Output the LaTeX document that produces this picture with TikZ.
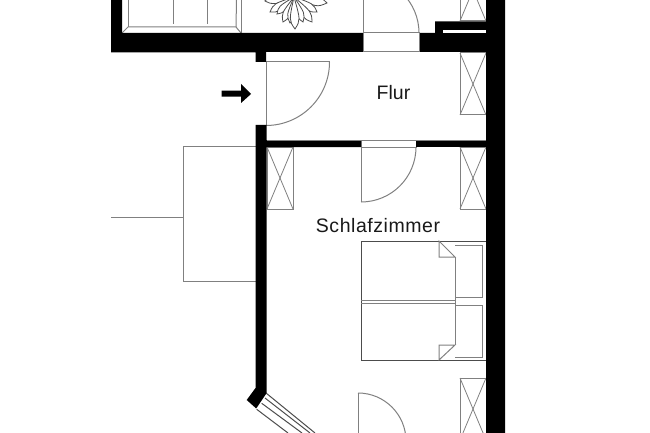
\documentclass[tikz,border=0pt]{standalone}
\usepackage{fontspec}
\setmainfont{Liberation Sans}
\usetikzlibrary{calc}
\tikzset{
  wall/.style={fill=black,draw=none},
  thin line/.style={draw=black!50,line width=1pt,fill=none},
  dark line/.style={draw=black!70,line width=1pt,fill=none},
  label text/.style={font=\fontsize{19.5}{22}\selectfont,text=black!90,inner sep=0pt}
}
\begin{document}
\begin{tikzpicture}[x=1pt,y=-1pt]
\useasboundingbox (0,0) rectangle (650,433);
\clip (0,0) rectangle (650,433);
% plant
\coordinate (pc) at (294,-3);
\foreach \tx/\ty in {255/-6,327/3,265/1,317/12,270/12,312/22,277/14,303/22,283/22,290/23,295/29}{
  \draw[dark line,line width=0.8pt,fill=white] (pc) .. controls ($(pc)!.75!14:(\tx,\ty)$) .. (\tx,\ty) .. controls ($(pc)!.75!-14:(\tx,\ty)$) .. (pc);
}
% tub
\draw[thin line] (122,33) -- (128,27) -- (236,27) -- (241,33);
\draw[thin line] (128,0) -- (128,27);
\draw[thin line] (236.5,0) -- (236,27);
\draw[thin line] (241,0) -- (241,33);
\draw[thin line] (173,0) -- (173,24);
\draw[thin line] (207,0) -- (207,24);
% balcony
\draw[thin line] (256,146) -- (183,146) -- (183,281) -- (256,281);
\draw[thin line] (111,217) -- (183,217);
% cupboards
\foreach \x/\ya/\yb in {460/-41/21,460/53/115,267/147/209,460/147/209,460/378/440}{
  \draw[thin line] (\x,\ya) rectangle (\x+26,\yb);
  \draw[thin line,line width=0.8pt] (\x,\ya) -- (\x+26,\yb);
  \draw[thin line,line width=0.8pt] (\x+26,\ya) -- (\x,\yb);
}
% doors
\draw[thin line] (363,0) -- (363,33);
\draw[thin line] (419,33) .. controls (419,2.1) and (393.9,-23) .. (363,-23);
\draw[thin line] (266,125.5) -- (266,62) -- (329.5,62);
\draw[thin line] (329.5,62) .. controls (329.5,97.1) and (301.1,125.5) .. (266,125.5);
\draw[thin line] (361,140) rectangle (416,147);
\draw[thin line] (361,147) -- (361,202);
\draw[thin line] (416,147) .. controls (416,177.4) and (391.4,202) .. (361,202);
\draw[thin line] (358,393) -- (358,433);
\draw[thin line] (358,393) .. controls (384.5,393) and (406,414.5) .. (406,441);
% beds
\draw[dark line] (486,241) -- (361,241) -- (361,360) -- (486,360);
\draw[thin line] (361,300) -- (455,300) (361,303) -- (455,303);
\draw[thin line] (455,257) -- (455,345);
\draw[thin line] (455,245) -- (482.5,245) -- (482.5,297) -- (455,297);
\draw[thin line] (455,305) -- (482.5,305) -- (482.5,357) -- (455,357);
\draw[thin line] (439,241) -- (439,257) -- (455,257) -- cycle;
\draw[thin line] (439,360) -- (439,345) -- (455,345) -- cycle;
% window
\draw[dark line] (266,393) -- (315,433);
\draw[dark line] (265,398) -- (310,433);
\draw[dark line] (261.7,403.3) -- (302,433);
\draw[dark line] (256.7,409.3) -- (288,433);
\draw[dark line] (266,393) -- (256,408);
% walls
\fill[wall] (111,0) -- (122,0) -- (122,33) -- (435,33) -- (435,21.5) -- (486,21.5) -- (486,0) -- (505,0) -- (505,433) -- (486,433) -- (486,52) -- (419,52) -- (419,33) -- (363,33) -- (363,52) -- (266,52) -- (266,62) -- (255.7,62) -- (255.7,52.5) -- (111,52.5) -- cycle;
\fill[white] (442.5,30) rectangle (486,33.5);
\draw[thin line] (363,33) rectangle (419,52);
\fill[wall] (255.7,125) -- (266.5,125) -- (266.5,140) -- (361,140) -- (361,147) -- (266.5,147) -- (266.5,393) -- (256,408.3) -- (246.7,400) -- (255.5,388) -- cycle;
\fill[wall] (416,140) rectangle (486,147);
\draw[thin line] (266.5,140) -- (486,140);
% arrow
\fill[wall] (221.7,90.7) -- (241,90.7) -- (241,84) -- (251,94) -- (241,103) -- (241,96.7) -- (221.7,96.7) -- cycle;
% text
\node[label text] (flur) at (393.5,93) {Flur};
\node[label text] (schlaf) at (378,226) {\addfontfeature{LetterSpace=2.8}Schlafzimmer};
\end{tikzpicture}
\end{document}
